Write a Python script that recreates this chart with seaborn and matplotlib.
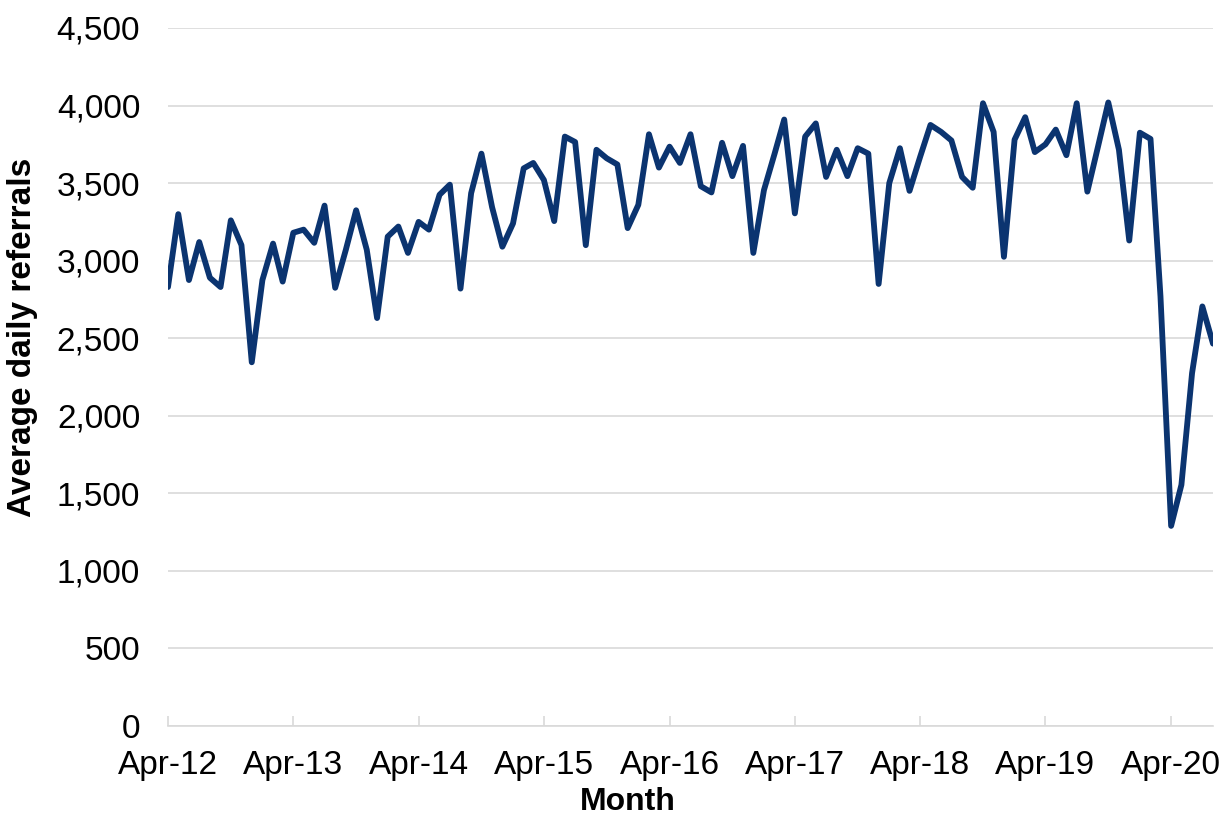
import pandas as pd
import matplotlib.pyplot as plt
import matplotlib.ticker as mticker
import seaborn as sns

# Average daily referrals, monthly from Apr-12 to Aug-20
referrals = [
    2830, 3300, 2875, 3120, 2890, 2830, 3260, 3100, 2345, 2875, 3110, 2865,
    3180, 3200, 3115, 3355, 2825, 3070, 3325, 3070, 2630, 3155, 3220, 3050,
    3250, 3200, 3425, 3490, 2820, 3435, 3690, 3345, 3090, 3240, 3595, 3630,
    3520, 3255, 3800, 3765, 3100, 3715, 3660, 3620, 3210, 3360, 3815, 3600,
    3735, 3630, 3815, 3480, 3440, 3760, 3545, 3740, 3050, 3455, 3690, 3910,
    3305, 3800, 3885, 3540, 3715, 3545, 3725, 3690, 2850, 3500, 3725, 3450,
    3670, 3875, 3830, 3775, 3540, 3470, 4015, 3830, 3025, 3780, 3925, 3700,
    3750, 3845, 3680, 4015, 3445, 3735, 4020, 3715, 3130, 3825, 3785, 2770,
    1290, 1555, 2275, 2705, 2465,
]
first_month = "2012-04-01"
tick_labels = ["Apr-12", "Apr-13", "Apr-14", "Apr-15", "Apr-16",
               "Apr-17", "Apr-18", "Apr-19", "Apr-20"]

months = pd.date_range(first_month, periods=len(referrals), freq="MS")
df = pd.DataFrame({"Month": months, "Referrals": referrals})
tick_dates = pd.to_datetime(tick_labels, format="%b-%y")

sns.set_theme(style="white")
plt.rcParams['font.family'] = ['Liberation Sans', 'DejaVu Sans']
plt.rcParams['text.color'] = 'black'
plt.rcParams['axes.labelcolor'] = 'black'

fig = plt.figure(figsize=(12.29, 8.17), dpi=100)
ax = fig.add_axes([168 / 1229, 91 / 817, (1213 - 168) / 1229, (726 - 28) / 817])

sns.lineplot(data=df, x="Month", y="Referrals", ax=ax, color="#0b3470",
             linewidth=4.2, zorder=3)

ax.set_ylim(0, 4500)
ax.set_xlim(months[0], months[-1])
ax.yaxis.set_major_locator(mticker.MultipleLocator(500))
ax.yaxis.set_major_formatter(mticker.StrMethodFormatter("{x:,.0f}"))
ax.set_xticks(tick_dates)
ax.set_xticklabels(tick_labels)

# gridlines and axis styling like the original spreadsheet chart
ax.grid(axis="y", color="#d9d9d9", linewidth=1.2)
ax.grid(axis="x", visible=False)
for side in ["top", "right", "left"]:
    ax.spines[side].set_visible(False)
ax.spines["bottom"].set_color("#d9d9d9")
ax.spines["bottom"].set_linewidth(1.2)
ax.tick_params(axis="x", direction="in", length=7, width=1.2, color="#d9d9d9",
               labelcolor="black", labelsize=24, pad=17, bottom=True)
ax.tick_params(axis="y", length=0, labelsize=24, pad=20, labelcolor="black")

ax.set_xlabel("Month", fontsize=23, fontweight="bold")
ax.set_ylabel("Average daily referrals", fontsize=24, fontweight="bold")
ax.xaxis.set_label_coords(0.44, -0.0875)
ax.yaxis.set_label_coords(-0.1244, 0.557)

fig.savefig("out.png", dpi=100)
